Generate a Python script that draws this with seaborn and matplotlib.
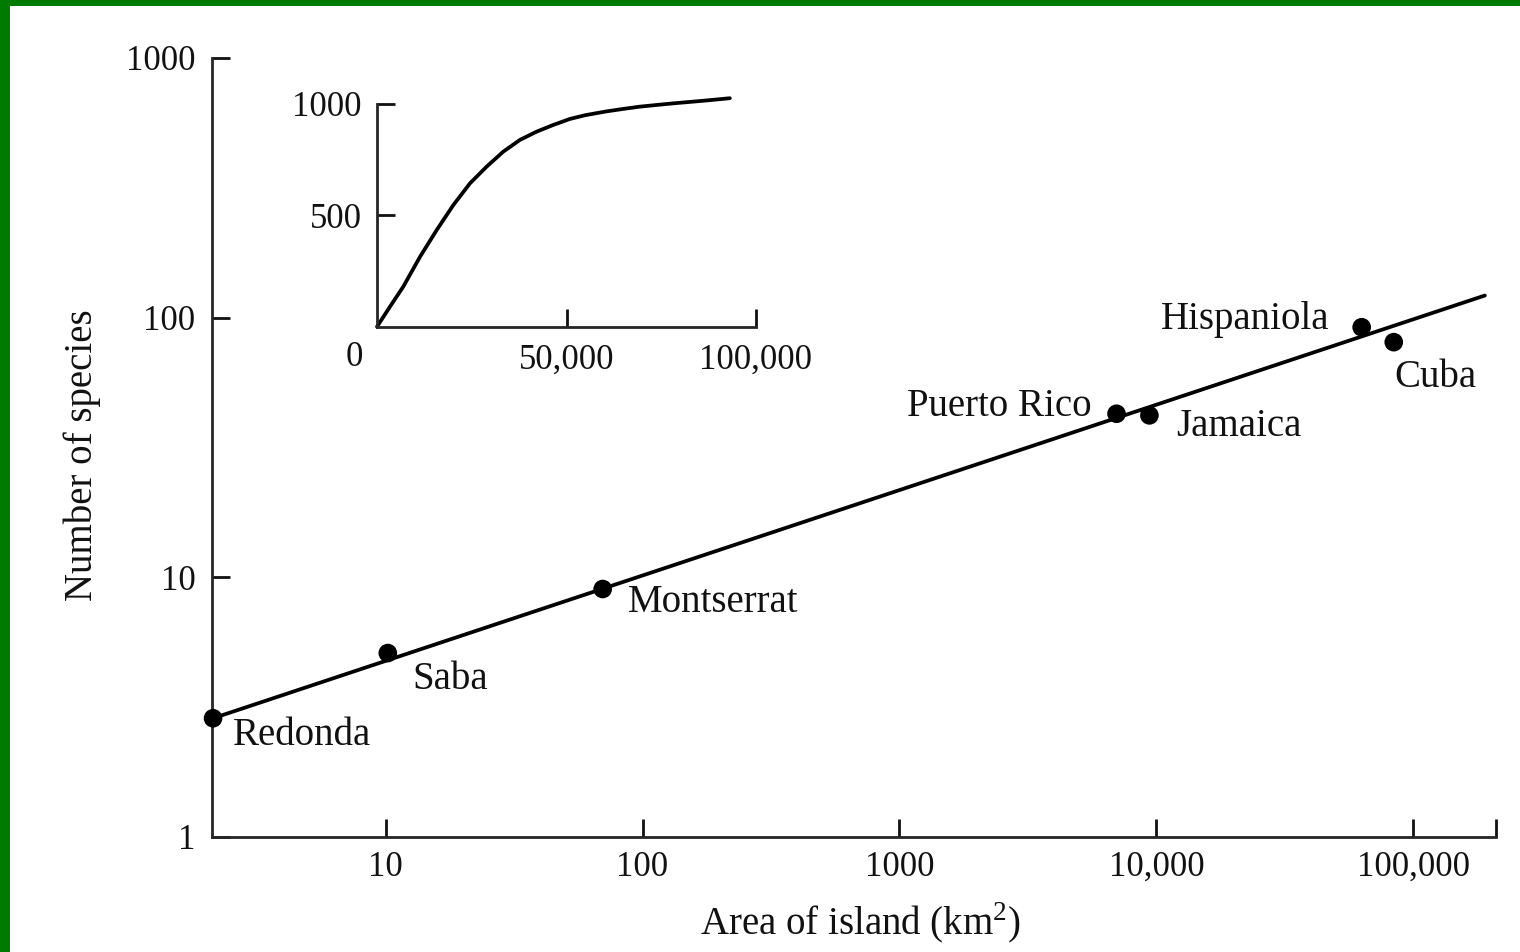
import matplotlib
matplotlib.use("Agg")
import matplotlib.pyplot as plt
import seaborn as sns
from matplotlib.patches import Rectangle

# island data
islands = ["Redonda", "Saba", "Montserrat", "Puerto Rico", "Jamaica", "Hispaniola", "Cuba"]
area_km2 = [2.13, 10.2, 70, 7000, 9400, 63000, 84000]
species = [2.86, 5.1, 9.0, 42.6, 42.0, 91.8, 80.4]

# straight fitted line (ends)
trend_area = [2.13, 190000]
trend_species = [2.86, 121.6]

# inset: same relation on arithmetic axes
inset_area = [0, 3500, 6940, 11350, 15750, 20130, 24540, 28940, 33320, 37730, 42140,
              46520, 50920, 55000, 60600, 65000, 69300, 74000, 78200, 83000, 87000, 93100]
inset_species = [0, 92, 180, 314, 434, 546, 644, 719, 786, 839, 876,
                 906, 933, 950, 967, 978, 988, 996, 1003, 1010, 1016, 1026]

x_ticks = [10, 100, 1000, 10000, 100000]
x_ticklabels = ["10", "100", "1000", "10,000", "100,000"]
y_ticks = [1, 10, 100, 1000]
y_ticklabels = ["1", "10", "100", "1000"]

# label placement (offset in points from the dot, alignment)
label_pos = {
    "Redonda": (14, -19.5, "left"),
    "Saba": (18, -26, "left"),
    "Montserrat": (17.8, -16.8, "left"),
    "Puerto Rico": (-18, -1.5, "right"),
    "Jamaica": (19.5, -15, "left"),
    "Hispaniola": (-23, -1, "right"),
    "Cuba": (0.7, -32, "left"),
}

sns.set_theme(style="ticks")
plt.rcParams["font.family"] = ["Liberation Serif", "DejaVu Serif"]
plt.rcParams["mathtext.fontset"] = "custom"
plt.rcParams["mathtext.rm"] = "Liberation Serif"
plt.rcParams["axes.linewidth"] = 2.0
ink = "#111111"

W, H = 1520, 952
fig = plt.figure(figsize=(W / 100, H / 100), dpi=100)
fig.patch.set_facecolor("#007a00")
fig.add_artist(Rectangle((10 / W, 0), 1, 1 - 6 / H, transform=fig.transFigure,
                         facecolor="white", edgecolor="none", zorder=0))

# main log-log axes
ax = fig.add_axes([212 / W, 1 - 836.7 / H, 1284 / W, 778.7 / H])
ax.patch.set_alpha(0)
ax.set_xscale("log")
ax.set_yscale("log")
ax.set_xlim(2.11, 210000)
ax.set_ylim(1, 1000)

sns.lineplot(x=trend_area, y=trend_species, ax=ax, color="black", linewidth=2.7,
             solid_capstyle="round")
sns.scatterplot(x=area_km2, y=species, ax=ax, s=180, color="black",
                edgecolor="none", zorder=3, clip_on=False)

for name, xa, ys in zip(islands, area_km2, species):
    dx, dy, ha = label_pos[name]
    ax.annotate(name, (xa, ys), xytext=(dx, dy), textcoords="offset points",
                ha=ha, va="baseline", fontsize=28, color=ink)

ax.set_xticks(x_ticks + [210000])
ax.set_xticklabels(x_ticklabels + [""])
ax.set_yticks(y_ticks)
ax.set_yticklabels(y_ticklabels)
ax.minorticks_off()
ax.tick_params(axis="both", direction="in", length=13, width=2.0,
               labelsize=25, colors=ink)
ax.tick_params(axis="x", pad=10)
ax.tick_params(axis="y", pad=12)
sns.despine(ax=ax)

ax.set_ylabel("Number of species", fontsize=28, va="center", color=ink)
ax.yaxis.set_label_coords(-0.101, 0.49)
ax.set_xlabel("Area of island (km$^2$)", fontsize=28, va="center", color=ink)
ax.xaxis.set_label_coords(0.505, -0.112)

# inset with linear axes
axi = fig.add_axes([377 / W, 1 - 326.7 / H, 379 / W, 222.7 / H])
axi.patch.set_alpha(0)
sns.lineplot(x=inset_area, y=inset_species, ax=axi, color="black",
             linewidth=2.7, sort=False, clip_on=False, solid_joinstyle="round")
axi.set_xlim(0, 100000)
axi.set_ylim(0, 1000)
axi.set_xticks([50000, 100000])
axi.set_xticklabels(["50,000", "100,000"])
axi.set_yticks([500, 1000])
axi.set_yticklabels(["500", "1000"])
axi.tick_params(axis="both", direction="in", length=13, width=2.0,
                labelsize=25, colors=ink)
axi.tick_params(axis="x", pad=12)
axi.tick_params(axis="y", pad=11)
axi.annotate("0", (0, 0), xytext=(-16, -22), textcoords="offset points",
             ha="center", va="center", fontsize=25, color=ink)
axi.set_xlabel("")
axi.set_ylabel("")
sns.despine(ax=axi)

fig.savefig("out.png", dpi=100, facecolor=fig.get_facecolor())
